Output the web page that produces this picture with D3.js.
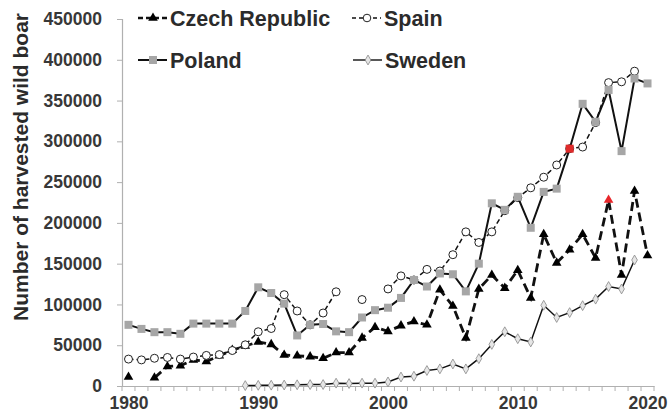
<!DOCTYPE html>
<html>
<head>
<meta charset="utf-8">
<script src="https://cdn.jsdelivr.net/npm/d3@7"></script>
<style>
  body { margin: 0; background: #fff; }
  svg { display: block; font-family: "Liberation Sans", Arial, sans-serif; font-weight: bold; }
</style>
</head>
<body>
<svg width="672" height="415"></svg>
<script>
var width = 672;
var height = 415;

var years = d3.range(1980, 2021);
var yearLabels = [1980, 1990, 2000, 2010, 2020];
var yTicks = [0, 50000, 100000, 150000, 200000, 250000, 300000, 350000, 400000, 450000];

// harvested wild boar per year, 1980..2020 (null = no data)
var czech = [11000, null, 10000, 24000, 25000, 32000, 30000, 37000, 44000, 49000,
  54000, 51000, 38000, 37000, 36000, 34000, 41000, 41000, 59000, 72000,
  67000, 74000, 79000, 75000, 118000, 98000, 59000, 119000, 136000, 120000,
  142000, 108000, 186000, 151000, 167000, 186000, 157000, 228000, 136000, 239000,
  160000];
var spain = [33000, 32000, 34000, 35000, 33000, 35500, 37500, 38500, 43500, 50500,
  66500, 70500, 112000, 92000, 75000, 89500, 115500, null, 106000, null,
  119000, 135000, 130000, 143000, 141000, 161000, 189000, 176000, 189000, 215000,
  231000, 243000, 256000, 271000, 291000, 293000, 323000, 372000, 373000, 386000,
  null];
var poland = [75000, 70000, 66000, 66000, 64000, 76500, 76500, 76500, 76500, 92000,
  121000, 114000, 101000, 62000, 75000, 76000, 67000, 66000, 84000, 93000,
  96000, 108000, 130000, 122000, 138000, 137000, 116000, 150000, 224000, 216000,
  232000, 194000, 238000, 242000, 291000, 346000, 324000, 363000, 288000, 377000,
  371000];
var sweden = [null, null, null, null, null, null, null, null, null, 500,
  800, 1000, 1200, 1500, 1700, 1800, 3500, 3000, 3500, 3500,
  5000, 11000, 12000, 19000, 21000, 27000, 21000, 33500, 51000, 66500,
  58000, 54000, 99000, 84000, 90000, 98500, 106500, 122000, 119000, 154500,
  null];
var redYears = { czech: 2017, poland: 2014 };

var x = d3.scalePoint().domain(years).range([122, 654]).padding(0.5);
var xb = d3.scaleBand().domain(years).range([122, 654]);
var y = d3.scaleLinear().domain([0, 450000]).range([386, 19]);

var svg = d3.select("svg");
svg.append('rect').attr('width', width).attr('height', height).attr('fill', '#fff');

// y axis
var yAxis = svg.append('g')
  .attr('transform', 'translate(122,0)')
  .call(d3.axisLeft(y).tickValues(yTicks).tickSize(5).tickPadding(15).tickFormat(d3.format('d')));
yAxis.select('.domain').attr('stroke', '#b0b0b0').attr('stroke-width', 1.2);
yAxis.selectAll('.tick line').attr('stroke', '#b0b0b0');
yAxis.selectAll('text')
  .attr('font-size', '17.5px').attr('font-family', null).attr('fill', '#383838');

// x axis with ticks on category boundaries
var xAxis = svg.append('g')
  .attr('transform', 'translate(0,386)')
  .call(d3.axisBottom(x).tickValues(yearLabels).tickSize(0).tickPadding(11));
xAxis.select('.domain').attr('stroke', '#b0b0b0').attr('stroke-width', 1.2);
xAxis.selectAll('text')
  .attr('font-size', '17.5px').attr('font-family', null).attr('fill', '#383838');
xAxis.selectAll('line.cat').data(years.concat([null])).enter()
  .append('line')
  .attr('class', 'cat')
  .attr('x1', function(d) { return d === null ? 654 : xb(d); })
  .attr('x2', function(d) { return d === null ? 654 : xb(d); })
  .attr('y1', 0).attr('y2', 5)
  .attr('stroke', '#b0b0b0');

// y axis title
svg.append('text')
  .attr('transform', 'translate(28,167) rotate(-90)')
  .attr('text-anchor', 'middle')
  .attr('font-size', '21px')
  .attr('fill', '#2b2b2b')
  .text('Number of harvested wild boar');

function series(vals) {
  return years.map(function(yr, i) { return { year: yr, value: vals[i] }; });
}

var line = d3.line()
  .defined(function(d) { return d.value !== null; })
  .x(function(d) { return x(d.year); })
  .y(function(d) { return y(d.value); });

var plot = svg.append('g');

function drawLine(vals, width, dash) {
  plot.append('path')
    .datum(series(vals))
    .attr('d', line)
    .attr('fill', 'none')
    .attr('stroke', '#111')
    .attr('stroke-width', width)
    .attr('stroke-dasharray', dash);
}

function present(vals) {
  return series(vals).filter(function(d) { return d.value !== null; });
}

var tri = d3.symbol().type(d3.symbolTriangle).size(40);
var dia = d3.symbol().type(d3.symbolDiamond).size(28);

// Czech Republic
drawLine(czech, 2.8, '9,5');
plot.selectAll('path.cz').data(present(czech)).enter()
  .append('path')
  .attr('class', 'cz')
  .attr('d', tri)
  .attr('transform', function(d) { return 'translate(' + x(d.year) + ',' + y(d.value) + ')'; })
  .attr('fill', function(d) { return d.year === redYears.czech ? '#e8262a' : '#000'; });

// Spain
drawLine(spain, 1.5, '5,3');
plot.selectAll('circle.es').data(present(spain)).enter()
  .append('circle')
  .attr('class', 'es')
  .attr('cx', function(d) { return x(d.year); })
  .attr('cy', function(d) { return y(d.value); })
  .attr('r', 4)
  .attr('fill', '#fff')
  .attr('stroke', '#222')
  .attr('stroke-width', 1);

// Poland
drawLine(poland, 2, null);
plot.selectAll('rect.pl').data(present(poland)).enter()
  .append('rect')
  .attr('class', 'pl')
  .attr('x', function(d) { return x(d.year) - 4; })
  .attr('y', function(d) { return y(d.value) - 4; })
  .attr('width', 8).attr('height', 8)
  .attr('fill', function(d) { return d.year === redYears.poland ? '#e02a2a' : '#a6a6a6'; });

// Sweden
drawLine(sweden, 1.5, null);
plot.selectAll('path.se').data(present(sweden)).enter()
  .append('path')
  .attr('class', 'se')
  .attr('d', dia)
  .attr('transform', function(d) { return 'translate(' + x(d.year) + ',' + y(d.value) + ')'; })
  .attr('fill', '#e6e6e6')
  .attr('stroke', '#888')
  .attr('stroke-width', 0.8);

// legend
var legend = svg.append('g');
var legendItems = [
  { name: 'Czech Republic', x: 138, y: 18, dash: '5,3', w: 2.4, mark: 'tri' },
  { name: 'Spain', x: 352, y: 18, dash: '4,3', w: 1.5, mark: 'circle' },
  { name: 'Poland', x: 138, y: 60, dash: null, w: 2, mark: 'square' },
  { name: 'Sweden', x: 353, y: 60, dash: null, w: 1.4, mark: 'diamond' }
];
legendItems.forEach(function(it) {
  legend.append('line')
    .attr('x1', it.x).attr('x2', it.x + 29)
    .attr('y1', it.y).attr('y2', it.y)
    .attr('stroke', '#111').attr('stroke-width', it.w)
    .attr('stroke-dasharray', it.dash);
  var cx = it.x + 15;
  if (it.mark === 'tri') {
    legend.append('path').attr('d', tri).attr('transform', 'translate(' + cx + ',' + it.y + ')').attr('fill', '#000');
  } else if (it.mark === 'circle') {
    legend.append('circle').attr('cx', cx).attr('cy', it.y).attr('r', 3.8)
      .attr('fill', '#fff').attr('stroke', '#222');
  } else if (it.mark === 'square') {
    legend.append('rect').attr('x', cx - 4).attr('y', it.y - 4).attr('width', 8).attr('height', 8).attr('fill', '#a6a6a6');
  } else {
    legend.append('path').attr('d', dia).attr('transform', 'translate(' + cx + ',' + it.y + ')')
      .attr('fill', '#e6e6e6').attr('stroke', '#888').attr('stroke-width', 0.8);
  }
  legend.append('text')
    .attr('x', it.x + 32)
    .attr('y', it.y)
    .attr('dy', '0.36em')
    .attr('font-size', '21.5px')
    .attr('fill', '#2b2b2b')
    .text(it.name);
});
</script>
</body>
</html>
